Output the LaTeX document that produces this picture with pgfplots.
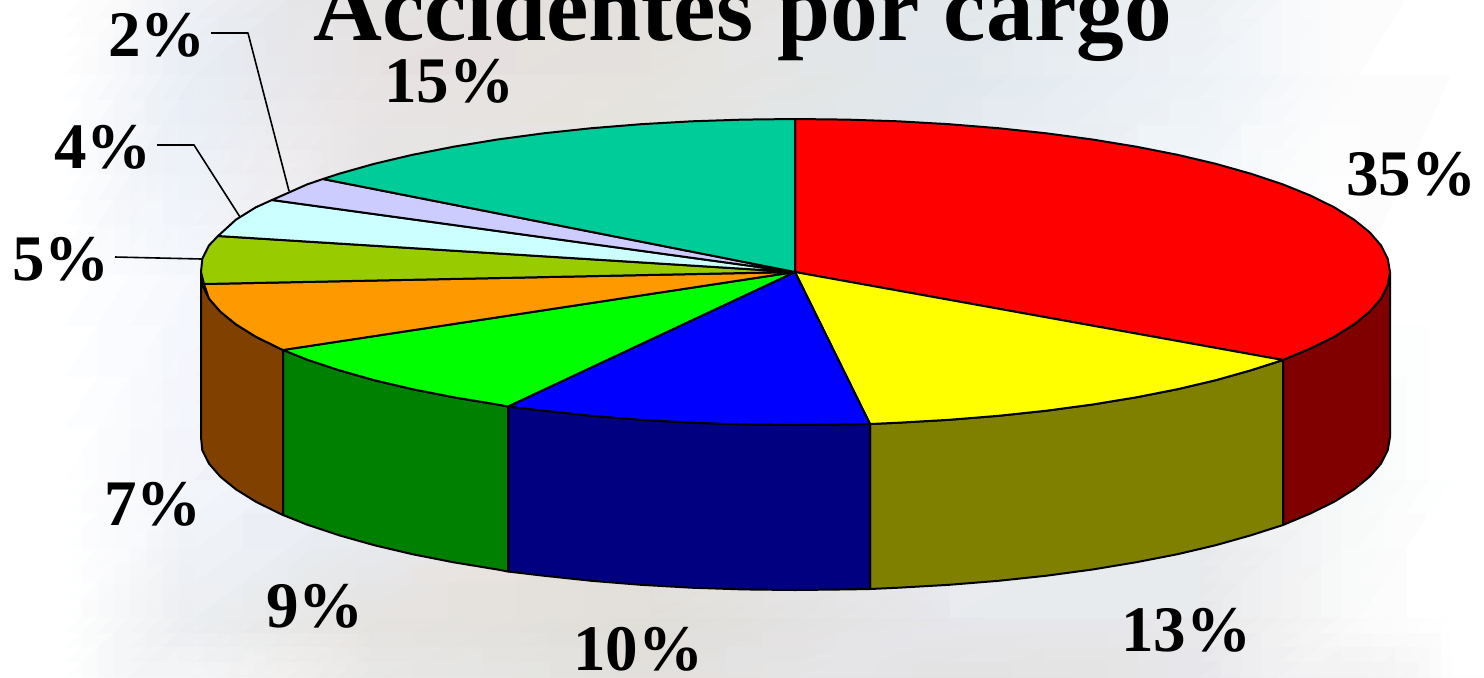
\documentclass[border=0pt]{standalone}
\usepackage{fontspec}
\setmainfont{Liberation Serif}
\usepackage{pgfplots}
\pgfplotsset{compat=1.18}
\definecolor{sRed}{HTML}{FF0000}
\definecolor{sYellow}{HTML}{FFFF00}
\definecolor{sBlue}{HTML}{0000FF}
\definecolor{sGreen}{HTML}{00FF00}
\definecolor{sOrange}{HTML}{FF9900}
\definecolor{sLime}{HTML}{99CC00}
\definecolor{sCyan}{HTML}{CCFFFF}
\definecolor{sLav}{HTML}{CCCCFF}
\definecolor{sTeal}{HTML}{00CC99}
\definecolor{wRed}{HTML}{800000}
\definecolor{wOlive}{HTML}{808000}
\definecolor{wNavy}{HTML}{000080}
\definecolor{wGreen}{HTML}{008000}
\definecolor{wBrown}{HTML}{804000}
\tikzset{lab/.style={anchor=base west,inner sep=0pt,font=\fontsize{32.5}{33}\selectfont\bfseries}}
\begin{document}
\begin{tikzpicture}
\useasboundingbox (0,0) rectangle (742pt,338.5pt);
\clip (0,0) rectangle (742pt,338.5pt);
\begin{axis}[
  scale only axis, width=742pt, height=338.5pt,
  xmin=0, xmax=1484, ymin=0, ymax=677, y dir=reverse,
  hide axis, clip=false,
  every axis plot/.append style={line join=round},
]
% washed out backdrop, coarse grid
\addplot[matrix plot*, shader=interp, mesh/cols=9, mesh/color input=explicit, point meta=explicit symbolic, forget plot] table[meta=c] {
x y c
0 0 rgb=1,1,1
130 0 rgb=1,1,1
260 0 rgb=.95,.95,.96
500 0 rgb=.89,.88,.88
800 0 rgb=.89,.87,.86
1100 0 rgb=.89,.90,.91
1300 0 rgb=.93,.93,.93
1420 0 rgb=.99,.99,.99
1484 0 rgb=1,1,1
0 150 rgb=1,1,1
130 150 rgb=1,1,1
260 150 rgb=.91,.93,.96
500 150 rgb=.91,.89,.89
800 150 rgb=.90,.89,.87
1100 150 rgb=.88,.91,.93
1300 150 rgb=.93,.95,.97
1420 150 rgb=.99,.99,.99
1484 150 rgb=1,1,1
0 400 rgb=1,1,1
130 400 rgb=1,1,1
260 400 rgb=.96,.97,.99
500 400 rgb=.90,.90,.92
800 400 rgb=.90,.90,.90
1100 400 rgb=.92,.92,.94
1300 400 rgb=.96,.98,.99
1420 400 rgb=1,1,1
1484 400 rgb=1,1,1
0 560 rgb=1,1,1
130 560 rgb=1,1,1
260 560 rgb=.95,.96,.98
500 560 rgb=.91,.93,.96
800 560 rgb=.92,.89,.87
1100 560 rgb=.93,.94,.95
1300 560 rgb=.91,.92,.93
1420 560 rgb=.97,.98,.98
1484 560 rgb=1,1,1
0 677 rgb=1,1,1
130 677 rgb=1,1,1
260 677 rgb=.92,.93,.94
500 677 rgb=.90,.89,.88
800 677 rgb=.88,.87,.85
1100 677 rgb=.90,.90,.92
1300 677 rgb=.91,.91,.92
1420 677 rgb=.98,.98,.98
1484 677 rgb=1,1,1
};
% side walls
\addplot[fill=wRed, draw=black, line width=1pt] coordinates {(1390,272)(1387.7,285.3)(1381,298.6)(1369.7,311.6)(1354.1,324.3)(1334.2,336.7)(1310.3,348.5)(1283,360)(1283,525)(1310.3,513.5)(1334.2,501.7)(1354.1,489.3)(1369.7,476.6)(1381,463.6)(1387.7,450.3)(1390,437)} -- cycle;
\addplot[fill=wOlive, draw=black, line width=1pt] coordinates {(1283,360)(1250.8,370.3)(1215.7,380.2)(1177.5,389.2)(1136.3,397.3)(1092.5,404.5)(1046.4,410.7)(998.5,415.8)(949,419.8)(898.3,422.7)(870,424)(870,589)(898.3,587.7)(949,584.8)(998.5,580.8)(1046.4,575.7)(1092.5,569.5)(1136.3,562.2)(1177.5,554.2)(1215.7,545.2)(1250.8,535.3)(1283,525)} -- cycle;
\addplot[fill=wNavy, draw=black, line width=1pt] coordinates {(870,424)(846.9,424.4)(795,425)(743.1,424.4)(691.7,422.7)(641,419.8)(591.5,415.8)(543.6,410.7)(508,406.5)(508,571.5)(543.6,575.7)(591.5,580.8)(641,584.8)(691.7,587.7)(743.1,589.4)(795,590)(846.9,589.4)(870,589)} -- cycle;
\addplot[fill=wGreen, draw=black, line width=1pt] coordinates {(508,406.5)(497.5,404.5)(453.7,397.3)(412.5,389.2)(374.3,380.2)(339.2,370.3)(307.6,359.8)(283,350)(283,515)(307.6,524.8)(339.2,535.3)(374.3,545.2)(412.5,554.2)(453.7,562.3)(497.5,569.5)(508,571.5)} -- cycle;
\addplot[fill=wBrown, draw=black, line width=1pt] coordinates {(283,350)(279.7,348.5)(255.8,336.7)(235.9,324.3)(220.3,311.6)(209,298.6)(202.3,285.3)(201,272)(201,437)(202.3,450.3)(209,463.6)(220.3,476.6)(235.9,489.3)(255.8,501.7)(279.7,513.5)(283,515)} -- cycle;
% top slices
\addplot[fill=sRed, draw=black, line width=1pt] coordinates {(795,272)(795,119)(846.9,119.6)(898.3,121.3)(949,124.2)(998.5,128.2)(1046.4,133.3)(1092.5,139.5)(1136.3,146.7)(1177.5,154.8)(1215.7,163.8)(1250.8,173.7)(1282.4,184.2)(1310.3,195.5)(1334.2,207.3)(1354.1,219.7)(1369.7,232.4)(1381,245.4)(1387.7,258.7)(1390,272)(1387.7,285.3)(1381,298.6)(1369.7,311.6)(1354.1,324.3)(1334.2,336.7)(1310.3,348.5)(1283,360)} -- cycle;
\addplot[fill=sYellow, draw=black, line width=1pt] coordinates {(795,272)(1283,360)(1250.8,370.3)(1215.7,380.2)(1177.5,389.2)(1136.3,397.3)(1092.5,404.5)(1046.4,410.7)(998.5,415.8)(949,419.8)(898.3,422.7)(870,424)} -- cycle;
\addplot[fill=sBlue, draw=black, line width=1pt] coordinates {(795,272)(870,424)(846.9,424.4)(795,425)(743.1,424.4)(691.7,422.7)(641,419.8)(591.5,415.8)(543.6,410.7)(508,406.5)} -- cycle;
\addplot[fill=sGreen, draw=black, line width=1pt] coordinates {(795,272)(508,406.5)(497.5,404.5)(453.7,397.3)(412.5,389.2)(374.3,380.2)(339.2,370.3)(307.6,359.8)(283,350)} -- cycle;
\addplot[fill=sOrange, draw=black, line width=1pt] coordinates {(795,272)(283,350)(279.7,348.5)(255.8,336.7)(235.9,324.3)(220.3,311.6)(209,298.6)(204,284)} -- cycle;
\addplot[fill=sLime, draw=black, line width=1pt] coordinates {(795,272)(204,284)(201,272)(202.3,258.7)(209,245.4)(218,236)} -- cycle;
\addplot[fill=sCyan, draw=black, line width=1pt] coordinates {(795,272)(218,236)(235.9,219.7)(255.8,207.3)(272,200)} -- cycle;
\addplot[fill=sLav, draw=black, line width=1pt] coordinates {(795,272)(272,200)(307.6,184.2)(323,179)} -- cycle;
\addplot[fill=sTeal, draw=black, line width=1pt] coordinates {(795,272)(323,179)(339.2,173.7)(374.3,163.8)(412.5,154.8)(453.7,146.7)(497.5,139.5)(543.6,133.3)(591.5,128.2)(641,124.2)(691.7,121.3)(743.1,119.6)(795,119)} -- cycle;
% leader lines
\addplot[black, line width=.8pt] coordinates {(211,33)(248,33)(289,191)};
\addplot[black, line width=.8pt] coordinates {(157,145)(194,145)(240,217)};
\addplot[black, line width=.8pt] coordinates {(115,257)(202,259)};
% labels
\node[lab,font=\fontsize{47.7}{48}\selectfont\bfseries] at (axis cs:313,40) {Accidentes por cargo};
\node[lab] at (axis cs:1346,195) {35\%};
\node[lab] at (axis cs:1121,651) {13\%};
\node[lab] at (axis cs:573,670) {10\%};
\node[lab] at (axis cs:266,627) {9\%};
\node[lab] at (axis cs:104,525) {7\%};
\node[lab] at (axis cs:12,280) {5\%};
\node[lab] at (axis cs:54,168) {4\%};
\node[lab] at (axis cs:108,56.7) {2\%};
\node[lab] at (axis cs:384,102) {15\%};
\end{axis}
\end{tikzpicture}
\end{document}
